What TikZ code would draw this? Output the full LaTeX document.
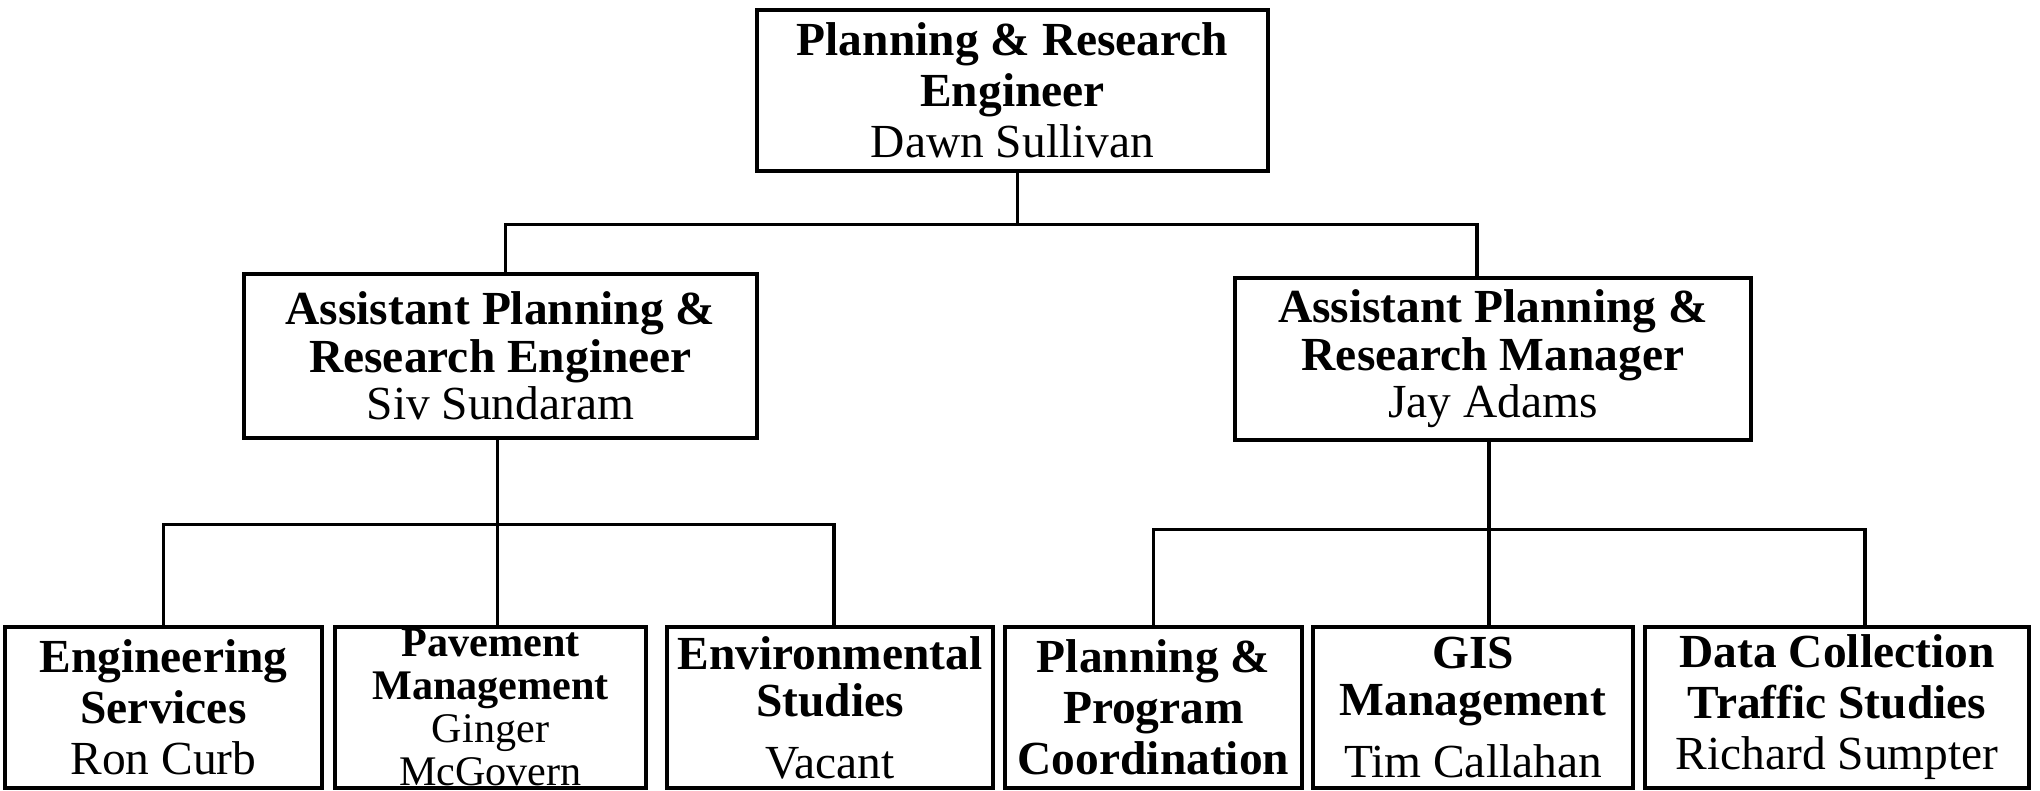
\documentclass[tikz,border=0pt]{standalone}
\usepackage{fontspec}
\setmainfont{Liberation Serif}

\begin{document}
\begin{tikzpicture}[every node/.append style={font=\fontsize{13.5}{14.5}\selectfont}]
      \tikzstyle{box} = [draw, line width=1.3pt, align=center, inner sep=0pt, minimum height=1.61cm]
      \tikzstyle{link} = [line width=1pt]
      \useasboundingbox (0,0) rectangle (20.4,7.91);
      \node (chief) [box, minimum width=5.11cm] at (10.125,7.005)
        {\textbf{Planning \& Research}\\ \textbf{Engineer}\\ Dawn Sullivan};
      \node (engr) [box, minimum width=5.13cm, minimum height=1.64cm] at (5.005,4.35)
        {\textbf{Assistant Planning \&}\\[-1pt] \textbf{Research Engineer}\\[-1pt] Siv Sundaram};
      \node (mgr) [box, minimum width=5.16cm, minimum height=1.62cm] at (14.93,4.32)
        {\textbf{Assistant Planning \&}\\[-1pt] \textbf{Research Manager}\\[-1pt] Jay Adams};
      \node (eng) [box, minimum width=3.17cm] at (1.635,0.835)
        {\textbf{Engineering}\\ \textbf{Services}\\ Ron Curb};
      \node (pave) [box, minimum width=3.11cm, font=\fontsize{12}{12.2}\selectfont] at (4.905,0.835)
        {\textbf{Pavement}\\ \textbf{Management}\\ Ginger\\ McGovern};
      \node (env) [box, minimum width=3.26cm] at (8.30,0.835)
        {\textbf{Environmental}\\[-1pt] \textbf{Studies}\\[3pt] Vacant};
      \node (prog) [box, minimum width=2.97cm] at (11.535,0.835)
        {\textbf{Planning \&}\\ \textbf{Program}\\ \textbf{Coordination}};
      \node (gis) [box, minimum width=3.20cm] at (14.73,0.835)
        {\textbf{GIS}\\[-1pt] \textbf{Management}\\[3pt] Tim Callahan};
      \node (data) [box, minimum width=3.84cm] at (18.37,0.835)
        {\textbf{Data Collection}\\ \textbf{Traffic Studies}\\ Richard Sumpter};
      \draw[link] ([xshift=0.05cm]chief.south) -- ++(0,-0.51) coordinate (j0);
      \draw[link] ([xshift=0.05cm]engr.north) |- (j0) -| ([xshift=-0.16cm]mgr.north);
      \draw[link] ([xshift=-0.03cm]engr.south) -- ++(0,-0.84) coordinate (j1);
      \draw[link] (eng.north) |- (j1) -| ([xshift=0.04cm]env.north);
      \draw[link] (j1) -- (j1 |- pave.north);
      \draw[link] ([xshift=-0.04cm]mgr.south) -- ++(0,-0.87) coordinate (j2);
      \draw[link] (prog.north) |- (j2) -| ([xshift=0.28cm]data.north);
      \draw[link] (j2) -- (j2 |- gis.north);
\end{tikzpicture}
\end{document}
